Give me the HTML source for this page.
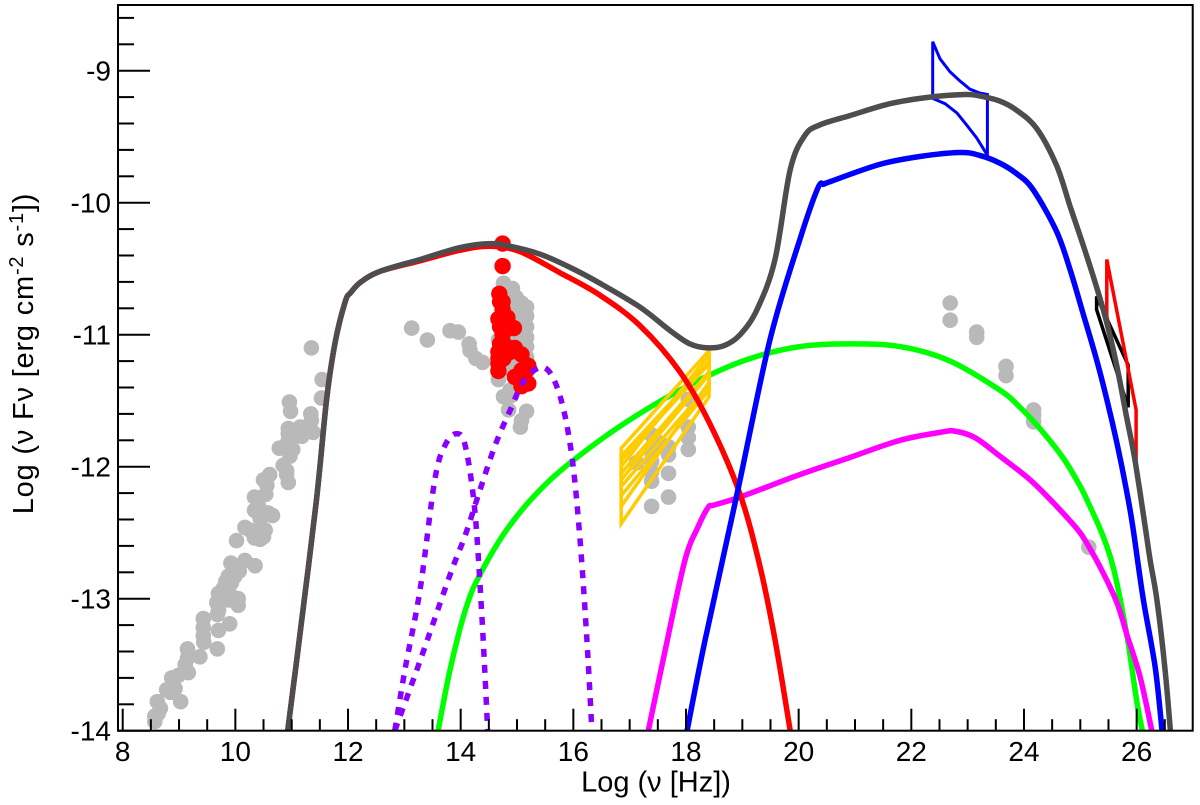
<!DOCTYPE html>
<html lang="en">
<head>
<meta charset="utf-8">
<title>Spectral energy distribution</title>
<style>
html,body{margin:0;padding:0;background:#fff;}
svg{display:block;}
text{font-family:"Liberation Sans",sans-serif;fill:#000;}
</style>
</head>
<body>
<svg id="chart" xmlns="http://www.w3.org/2000/svg" width="1200" height="805" viewBox="0 0 1200 805"></svg>
<script>
// ---- axis ticks ----
const xTickValues = [8,10,12,14,16,18,20,22,24,26];
const xTickLabels = ["8","10","12","14","16","18","20","22","24","26"];
const yTickValues = [-9,-10,-11,-12,-13,-14];
const yTickLabels = ["-9","-10","-11","-12","-13","-14"];
const xMinorTicks = [8.5,9,9.5,10.5,11,11.5,12.5,13,13.5,14.5,15,15.5,16.5,17,17.5,18.5,19,19.5,20.5,21,21.5,22.5,23,23.5,24.5,25,25.5,26.5];
const yMinorTicks = [-8.6,-8.8,-9.2,-9.4,-9.6,-9.8,-10.2,-10.4,-10.6,-10.8,-11.2,-11.4,-11.6,-11.8,-12.2,-12.4,-12.6,-12.8,-13.2,-13.4,-13.6,-13.8];

// ---- archival (gray) points ----
const grayNu = [11.35,11.54,11.53,10.96,10.98,11.34,11.35,10.94,11.15,11.38,11.18,10.94,10.78,11.02,10.97,10.85,10.91,10.94,10.61,10.50,10.54,10.34,10.34,10.58,10.66,10.44,10.53,10.17,10.34,10.50,10.02,9.92,10.17,10.35,10.07,9.83,9.93,9.70,9.82,10.05,9.67,9.875,10.05,9.68,9.90,9.70,9.43,9.43,9.44,9.68,9.15,9.15,9.37,9.165,8.99,8.87,8.85,9.03,8.615,8.67,8.57,8.57,8.63,
9.875,9.96,9.79,9.93,9.70,9.79,9.99,10.44,10.47,10.41,10.56,10.97,11.06,11.27,10.94,10.91,10.44,10.26,9.11,9.43,8.78,8.93,
13.13,13.41,13.81,13.96,14.15,14.165,14.27,14.39,14.76,14.92,15.17,15.17,15.17,15.17,15.17,15.17,14.99,14.99,14.99,14.99,14.99,14.99,14.99,14.99,14.67,14.67,14.76,14.905,14.85,15.17,15.08,15.06,
15.08,15.08,15.08,15.08,15.08,15.08,15.08,14.88,14.88,14.88,14.88,14.88,14.88,14.88,14.88,14.76,14.76,14.76,14.76,14.76,14.875,
17.39,17.69,17.69,17.39,17.39,17.39,17.39,17.39,17.69,17.69,18.04,18.04,18.04,17.12,17.54,18.04,
22.69,22.69,23.16,23.16,23.68,23.68,24.17,24.17,24.17,25.15];
const grayFlux = [-11.10,-11.34,-11.48,-11.51,-11.58,-11.60,-11.65,-11.71,-11.70,-11.74,-11.77,-11.75,-11.86,-11.87,-11.82,-11.99,-12.06,-12.12,-12.06,-12.10,-12.21,-12.23,-12.33,-12.35,-12.37,-12.39,-12.48,-12.46,-12.54,-12.53,-12.56,-12.73,-12.71,-12.75,-12.79,-12.87,-12.88,-12.96,-12.96,-13.00,-13.03,-13.01,-13.05,-13.12,-13.19,-13.24,-13.15,-13.22,-13.33,-13.38,-13.38,-13.45,-13.44,-13.56,-13.58,-13.60,-13.71,-13.78,-13.78,-13.83,-13.89,-13.93,-13.87,
-12.83,-12.76,-13.01,-12.98,-13.09,-12.92,-12.83,-12.48,-12.38,-12.30,-12.14,-11.92,-11.77,-11.71,-11.80,-12.03,-12.55,-12.48,-13.50,-13.28,-13.69,-13.68,
-10.95,-11.04,-10.97,-10.98,-11.07,-11.12,-11.18,-11.21,-10.61,-10.65,-10.79,-10.86,-10.94,-11.02,-11.09,-11.17,-10.72,-10.80,-10.88,-10.96,-11.04,-11.12,-11.20,-11.28,-11.04,-11.34,-11.47,-11.46,-11.57,-11.58,-11.65,-11.70,
-10.76,-10.84,-10.92,-11.00,-11.08,-11.16,-11.24,-10.70,-10.78,-10.86,-10.94,-11.02,-11.10,-11.18,-11.26,-10.70,-10.85,-11.00,-11.15,-11.25,-11.42,
-12.30,-12.23,-12.05,-12.11,-12.04,-11.96,-11.89,-11.76,-11.91,-11.85,-11.87,-11.78,-11.70,-11.97,-11.82,-11.49,
-10.76,-10.89,-10.98,-11.02,-11.24,-11.31,-11.57,-11.61,-11.66,-12.61];

// ---- optical (red) points ----
const redNu = [14.745,14.745,14.685,14.745,14.745,14.67,14.83,14.70,14.945,14.745,14.70,14.67,14.875,15.08,14.67,15.20,14.96,15.08,15.20,15.08,14.67,14.82,14.76,14.79,14.76,14.96,15.17,15.11,14.70,14.67];
const redFlux = [-10.31,-10.48,-10.69,-10.75,-10.81,-10.88,-10.87,-10.94,-10.95,-11.00,-11.07,-11.13,-11.13,-11.15,-11.275,-11.235,-11.32,-11.39,-11.37,-11.27,-11.22,-10.94,-10.88,-11.08,-11.18,-11.10,-11.27,-11.32,-10.75,-11.18];

// ---- model curves ----
const totalNu = [10.93,11.15,11.44,11.62,11.77,11.95,12.05,12.23,12.57,13.28,13.99,14.52,14.88,15.41,15.94,16.47,17.18,17.72,18.07,18.39,18.69,18.96,19.26,19.58,19.85,20.11,20.38,20.91,21.62,22.33,22.95,23.20,23.57,23.87,24.23,24.58,24.82,25.05,25.29,25.47,25.65,25.82,25.97,26.15,26.24,26.36,26.50,26.60];
const totalFlux = [-14,-13.26,-12.25,-11.49,-11.06,-10.75,-10.68,-10.60,-10.52,-10.43,-10.34,-10.31,-10.33,-10.39,-10.49,-10.61,-10.79,-10.97,-11.07,-11.10,-11.08,-11.00,-10.81,-10.43,-9.75,-9.49,-9.41,-9.34,-9.25,-9.20,-9.18,-9.19,-9.23,-9.30,-9.44,-9.72,-10.03,-10.32,-10.64,-10.91,-11.24,-11.62,-11.95,-12.45,-12.71,-13.01,-13.52,-14];

const synchNu = [10.93,11.15,11.44,11.62,11.77,11.95,12.05,12.23,12.57,13.28,13.99,14.52,15.05,15.76,16.47,17.18,17.89,18.43,18.96,19.31,19.58,19.85];
const synchFlux = [-14,-13.26,-12.25,-11.49,-11.06,-10.75,-10.68,-10.60,-10.52,-10.44,-10.36,-10.33,-10.37,-10.53,-10.70,-10.93,-11.28,-11.68,-12.21,-12.75,-13.31,-14];

const blueNu = [18.02,18.34,18.92,19.49,20.02,20.34,20.45,20.56,21.44,22.15,22.86,23.20,23.57,23.87,24.16,24.58,24.82,25.05,25.29,25.47,25.65,25.82,25.93,26.12,26.33,26.45];
const blueFlux = [-14,-13.31,-12.18,-11.04,-10.28,-9.89,-9.86,-9.84,-9.71,-9.65,-9.62,-9.64,-9.70,-9.78,-9.90,-10.22,-10.51,-10.84,-11.19,-11.49,-11.82,-12.18,-12.45,-13.01,-13.52,-14];

const greenNu = [13.60,13.81,14.08,14.34,14.88,15.59,16.47,17.36,18.25,19.14,20.02,20.91,21.80,22.69,23.57,23.93,24.28,24.69,25.00,25.17,25.38,25.53,25.65,25.84,26.00,26.10];
const greenFlux = [-14,-13.54,-13.09,-12.82,-12.44,-12.10,-11.80,-11.55,-11.34,-11.18,-11.09,-11.07,-11.09,-11.20,-11.42,-11.55,-11.71,-11.93,-12.15,-12.30,-12.50,-12.68,-12.88,-13.31,-13.77,-14];

const magentaNu = [17.33,17.63,17.98,18.21,18.39,18.50,18.96,20.02,20.91,21.80,22.51,22.77,23.13,23.57,24.11,24.58,24.96,25.13,25.40,25.65,25.84,26.06,26.27];
const magentaFlux = [-14,-13.39,-12.71,-12.46,-12.31,-12.29,-12.23,-12.06,-11.93,-11.80,-11.74,-11.73,-11.78,-11.92,-12.10,-12.30,-12.48,-12.59,-12.80,-13.03,-13.29,-13.59,-14];

const diskANu = [12.83,13.01,13.28,13.54,13.72,13.92,14.08,14.25,14.38,14.48];
const diskAFlux = [-14,-13.54,-12.93,-12.10,-11.84,-11.75,-11.84,-12.33,-13.16,-14];

const diskBNu = [12.83,13.28,13.81,14.08,14.34,14.61,14.88,15.14,15.49,15.76,15.97,16.12,16.24,16.33];
const diskBFlux = [-14,-13.47,-12.82,-12.52,-12.18,-11.84,-11.57,-11.34,-11.25,-11.46,-11.91,-12.56,-13.31,-14];

// ---- X-ray bow ties ----
const xrayNuStart = 16.85;
const xrayNuEnd = 18.41;
const xrayStartHigh = [-11.86,-11.92,-12.00,-12.05,-11.95];
const xrayStartLow = [-12.43,-12.15,-12.22,-12.30,-12.10];
const xrayEndHigh = [-11.12,-11.20,-11.15,-11.28,-11.22];
const xrayEndLow = [-11.47,-11.38,-11.42,-11.36,-11.30];

// ---- gamma-ray bow ties ----
const fermiUpperNu = [22.38,22.51,22.69,22.87,23.04,23.22,23.35];
const fermiUpperFlux = [-8.78,-8.91,-9.01,-9.08,-9.14,-9.17,-9.18];
const fermiLowerNu = [22.38,22.60,22.81,22.98,23.16,23.35];
const fermiLowerFlux = [-9.21,-9.25,-9.32,-9.41,-9.51,-9.64];

const blackTieNu = [25.29,25.85,25.85,25.29];
const blackTieFlux = [-10.71,-11.23,-11.55,-10.81];
const redTieNu = [25.47,25.99,25.99,25.47];
const redTieFlux = [-10.43,-11.57,-11.95,-10.86];

// ---- axis functions ----
function xScale(v){ return 122.7 + (v - 8) * 56.33; }
function yScale(v){ return 70.7 + (-9 - v) * 132; }

const NS = "http://www.w3.org/2000/svg";
const svg = document.getElementById("chart");
const FRAME = {l:118, r:1192.7, t:5, b:730.7};

function make(tag, attrs, parent){
  const el = document.createElementNS(NS, tag);
  for (const k in attrs) el.setAttribute(k, attrs[k]);
  (parent || svg).appendChild(el);
  return el;
}
function pts(xs, ys){
  return xs.map((x,i) => xScale(x).toFixed(1) + "," + yScale(ys[i]).toFixed(1)).join(" ");
}
// Catmull-Rom smoothing through the data points
function smoothPath(xs, ys){
  const p = xs.map((x,i) => [xScale(x), yScale(ys[i])]);
  let d = "M" + p[0][0].toFixed(1) + " " + p[0][1].toFixed(1);
  for (let i = 0; i < p.length - 1; i++){
    const a = p[Math.max(i-1,0)], b = p[i], c = p[i+1], e = p[Math.min(i+2,p.length-1)];
    const c1x = b[0] + (c[0]-a[0])/6, c1y = b[1] + (c[1]-a[1])/6;
    const c2x = c[0] - (e[0]-b[0])/6, c2y = c[1] - (e[1]-b[1])/6;
    d += " C" + c1x.toFixed(1) + " " + c1y.toFixed(1) + " " + c2x.toFixed(1) + " " + c2y.toFixed(1) + " " + c[0].toFixed(1) + " " + c[1].toFixed(1);
  }
  return d;
}

const defs = make("defs", {});
const clip = make("clipPath", {id:"plot-clip"}, defs);
make("rect", {x:FRAME.l, y:FRAME.t, width:FRAME.r-FRAME.l, height:FRAME.b-FRAME.t}, clip);

const plot = make("g", {"clip-path":"url(#plot-clip)"});



// gray points
const grayGroup = make("g", {fill:"#b9b9b9"}, plot);


grayNu.forEach((x,i) => {
  const c = make("circle", {cx:xScale(x).toFixed(1), cy:yScale(grayFlux[i]).toFixed(1), r:7.8}, grayGroup);
  
  
});

// red points
const redGroup = make("g", {fill:"#ff0000"}, plot);


redNu.forEach((x,i) => {
  const c = make("circle", {cx:xScale(x).toFixed(1), cy:yScale(redFlux[i]).toFixed(1), r:8.2}, redGroup);
  
  
});

function curve(xs, ys, color, width, dash){
  const attrs = {d:smoothPath(xs,ys), fill:"none", stroke:color, "stroke-width":width, "stroke-linejoin":"round"};
  if (dash) attrs["stroke-dasharray"] = dash;
  return make("path", attrs, plot);
}

const greenLine = curve(greenNu, greenFlux, "#00ff00", 5.5);



// X-ray bow ties
xrayStartHigh.forEach((h,i) => {
  const t = make("polygon", {
    points: pts([xrayNuStart,xrayNuEnd,xrayNuEnd,xrayNuStart],[h,xrayEndHigh[i],xrayEndLow[i],xrayStartLow[i]]),
    fill:"none", stroke:"#ffcc00", "stroke-width":3.5
  }, plot);
  
  
});

const magentaLine = curve(magentaNu, magentaFlux, "#ff00ff", 5.5);



const synchLine = curve(synchNu, synchFlux, "#ff0000", 5.5);



const blueLine = curve(blueNu, blueFlux, "#0000ff", 5.5);



const diskA = curve(diskANu, diskAFlux, "#8800ff", 5.5, "8 8");



const diskB = curve(diskBNu, diskBFlux, "#8800ff", 5.5, "8 8");



// gamma-ray bow ties
const fermiTie = make("polygon", {
  points: pts(fermiUpperNu.concat(fermiLowerNu.slice().reverse()), fermiUpperFlux.concat(fermiLowerFlux.slice().reverse())),
  fill:"none", stroke:"#0000ff", "stroke-width":3
}, plot);



const blackTie = make("polygon", {points:pts(blackTieNu, blackTieFlux), fill:"none", stroke:"#000000", "stroke-width":3.5}, plot);



const redTie = make("polygon", {points:pts(redTieNu, redTieFlux), fill:"none", stroke:"#ff0000", "stroke-width":3.5}, plot);



const totalLine = curve(totalNu, totalFlux, "#4d4d4d", 5.5);



// frame
const frame = make("rect", {x:FRAME.l, y:FRAME.t, width:FRAME.r-FRAME.l, height:FRAME.b-FRAME.t, fill:"none", stroke:"#000", "stroke-width":2});



// ticks
const xAxis = make("g", {stroke:"#000", "stroke-width":2});


xTickValues.forEach(v => {
  const t = make("line", {x1:xScale(v), x2:xScale(v), y1:FRAME.b, y2:FRAME.b-22}, xAxis);
  
  
});
xMinorTicks.forEach(v => {
  const t = make("line", {x1:xScale(v), x2:xScale(v), y1:FRAME.b, y2:FRAME.b-11.5}, xAxis);
  
  
});
const yAxis = make("g", {stroke:"#000", "stroke-width":2});


yTickValues.forEach(v => {
  const t = make("line", {x1:FRAME.l, x2:FRAME.l+32, y1:yScale(v), y2:yScale(v)}, yAxis);
  
  
});
yMinorTicks.forEach(v => {
  const t = make("line", {x1:FRAME.l, x2:FRAME.l+16, y1:yScale(v), y2:yScale(v)}, yAxis);
  
  
});

// tick labels
xTickLabels.forEach((s,i) => {
  const t = make("text", {x:xScale(xTickValues[i]), y:761, "text-anchor":"middle", "font-size":28});
  t.textContent = s;
  
  
});
yTickLabels.forEach((s,i) => {
  const t = make("text", {x:111, y:yScale(yTickValues[i])+10, "text-anchor":"end", "font-size":28});
  t.textContent = s;
  
  
});
</script>
<script>
(function(){
  const s = document.getElementById("chart");
  const xt = document.createElementNS("http://www.w3.org/2000/svg","text");
  xt.setAttribute("x","656");
  xt.setAttribute("y","791.5");
  xt.setAttribute("text-anchor","middle");
  xt.setAttribute("font-size","29");
  xt.textContent = "Log (ν [Hz])";
  
  
  s.appendChild(xt);

  const yt = document.createElementNS("http://www.w3.org/2000/svg","text");
  yt.setAttribute("transform","translate(33,353.5) rotate(-90)");
  yt.setAttribute("text-anchor","middle");
  yt.setAttribute("font-size","29");
  yt.setAttribute("letter-spacing","0.8");
  yt.innerHTML = 'Log (ν Fν [erg cm<tspan dy="-10" font-size="20">-2</tspan><tspan dy="10"> s</tspan><tspan dy="-10" font-size="20">-1</tspan><tspan dy="10">])</tspan>';
  
  
  s.appendChild(yt);
})();
</script>
</body>
</html>
